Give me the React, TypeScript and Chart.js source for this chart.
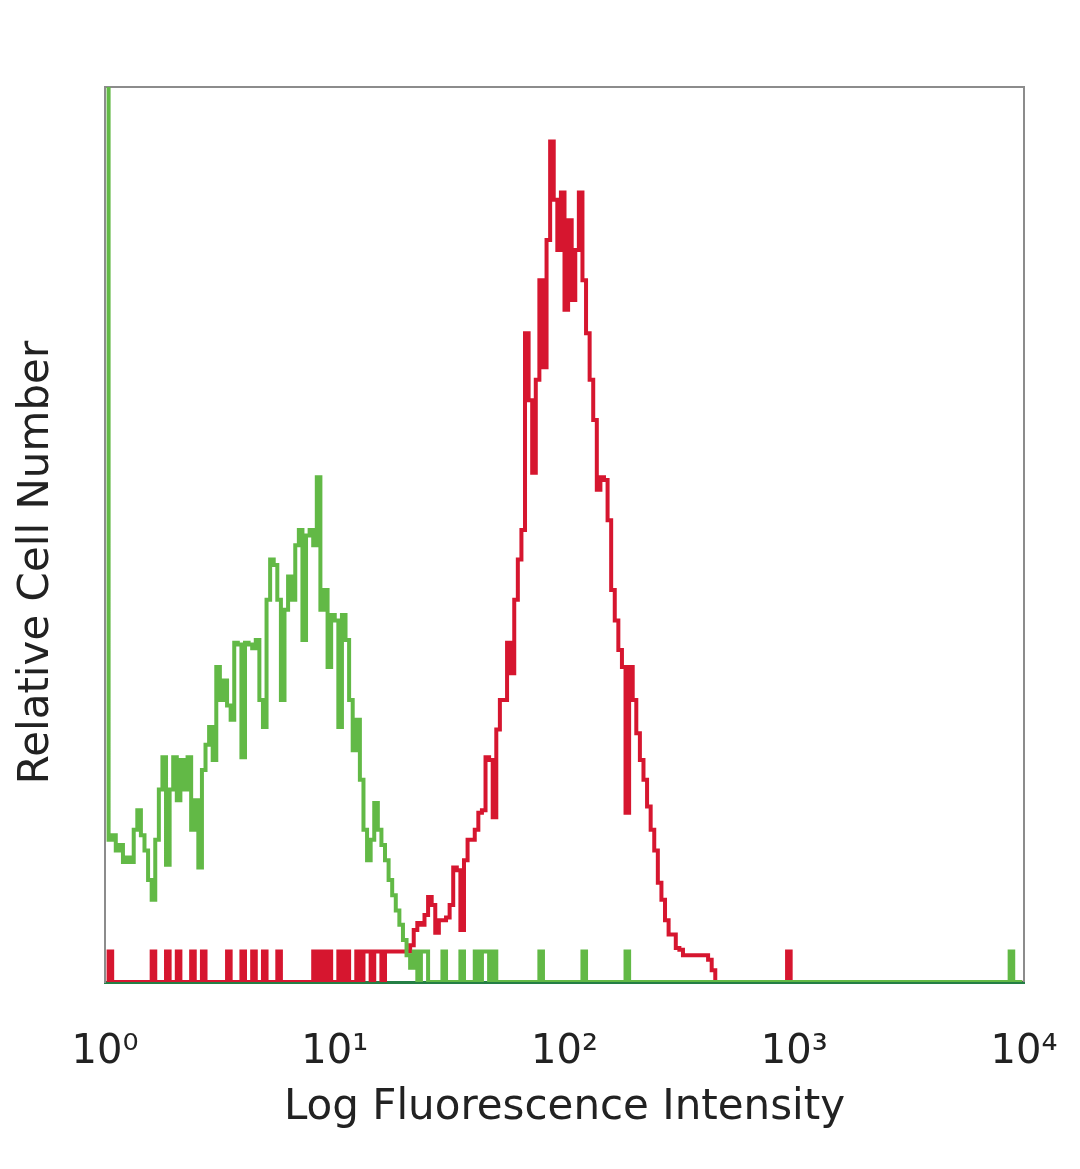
import React, { useEffect, useRef } from "react";
import { Chart, registerables } from "chart.js";

Chart.register(...registerables);

// Histogram channels: 64 channels per decade, 4 decades
const CHANNELS_PER_DECADE = 64;
const TOTAL_CHANNELS = 256;

const xTickValues = [1, 10, 100, 1000, 10000];
const xTickLabels = ["10\u2070", "10\u00B9", "10\u00B2", "10\u00B3", "10\u2074"];

const xAxisTitle = "Log Fluorescence Intensity";
const yAxisTitle = "Relative Cell Number";

// Green histogram (control), channels 0..90
const greenStart = 0;
const greenCounts = [
  150, 15.9, 16.4, 14.7, 15.3, 13.4, 13.9, 13.4, 17.0, 19.2,
  16.4, 14.7, 11.4, 9.2, 15.9, 21.5, 25.1, 13.1, 21.5, 25.1,
  20.3, 24.8, 21.5, 25.1, 17.0, 20.3, 12.8, 23.7, 26.5, 28.5,
  24.8, 35.2, 31.5, 33.7, 30.9, 29.3, 37.9, 37.7, 25.1, 37.9,
  37.7, 37.3, 38.2, 31.5, 28.5, 42.7, 47.2, 46.6, 42.7, 31.5,
  41.6, 45.3, 42.7, 48.8, 50.5, 38.2, 49.9, 50.5, 48.8, 56.4,
  41.6, 43.8, 35.2, 41.0, 40.4, 28.5, 41.0, 38.2, 31.5, 25.9,
  29.3, 22.6, 17.0, 13.6, 15.9, 20.0, 17.0, 15.3, 13.6, 11.4,
  9.7, 8.0, 6.4, 4.7, 3.0, 1.6, 3.4, 0, 3.4, 3.4,
  0,
];
// Isolated single events of the green histogram
const greenRareChannels = [94, 99, 103, 105, 106, 108, 121, 133, 145, 252];
const greenRareCounts = [3.4, 3.4, 3.4, 3.4, 3.4, 3.4, 3.4, 3.4, 3.4, 3.4];

// Red histogram (stained), channels 70..170
const redStart = 70;
const redCounts = [
  3.4, 0, 3.4, 3.4, 0, 3.4, 3.4, 0, 3.4, 3.4,
  3.4, 3.4, 3.4, 3.4, 3.4, 4.1, 5.8, 6.6, 6.4, 7.5,
  9.5, 8.6, 5.5, 6.9, 6.9, 7.2, 8.6, 12.8, 12.5, 5.8,
  13.6, 15.9, 15.9, 17.0, 18.9, 19.2, 25.1, 24.8, 18.4, 28.2,
  31.5, 31.5, 37.9, 34.5, 42.7, 47.2, 50.5, 72.5, 65.0, 56.9,
  67.3, 78.4, 68.7, 82.9, 93.9, 87.4, 81.8, 88.2, 75.1, 85.1,
  76.2, 81.8, 88.2, 78.4, 72.5, 67.3, 62.8, 55.0, 56.4, 56.1,
  51.6, 43.8, 40.4, 37.1, 35.2, 18.9, 35.2, 31.5, 27.8, 24.8,
  22.6, 19.6, 17.0, 14.7, 11.1, 9.2, 6.9, 5.3, 5.3, 3.8,
  3.6, 3.0, 3.0, 3.0, 3.0, 3.0, 3.0, 3.0, 2.5, 1.3,
  0,
];
// Isolated single events of the red histogram
const redRareChannels = [1, 13, 17, 20, 24, 27, 34, 38, 41, 44, 48, 58, 60, 62, 65, 67, 190];
const redRareCounts = [3.4, 3.4, 3.4, 3.4, 3.4, 3.4, 3.4, 3.4, 3.4, 3.4, 3.4, 3.4, 3.4, 3.4, 3.4, 3.4, 3.4];

function buildSeries(start: number, counts: number[], rareCh: number[], rareCt: number[]) {
  const arr: number[] = new Array(TOTAL_CHANNELS).fill(0);
  counts.forEach((c, i) => {
    arr[start + i] = c;
  });
  rareCh.forEach((ch, i) => {
    arr[ch] = rareCt[i];
  });
  return arr.map((y, ch) => ({ x: Math.pow(10, (ch + 0.5) / CHANNELS_PER_DECADE), y }));
}

const framePlugin = {
  id: "frame",
  beforeDatasetsDraw(chart: any) {
    const { ctx, chartArea } = chart;
    const { left, top, right, bottom } = chartArea;
    ctx.save();
    ctx.strokeStyle = "#8c8c8c";
    ctx.lineWidth = 2;
    ctx.beginPath();
    ctx.moveTo(left, top);
    ctx.lineTo(right, top);
    ctx.lineTo(right, bottom);
    ctx.stroke();
    ctx.restore();
  },
};

// Y-axis title, drawn a little below the axis centre as in the original figure
const yTitlePlugin = {
  id: "yTitle",
  afterDraw(chart: any) {
    const { ctx, chartArea } = chart;
    const cy = (chartArea.top + chartArea.bottom) / 2 + 28;
    ctx.save();
    ctx.translate(37, cy);
    ctx.rotate(-Math.PI / 2);
    ctx.fillStyle = "#222222";
    ctx.font = "42px 'DejaVu Sans'";
    ctx.textAlign = "center";
    ctx.textBaseline = "middle";
    ctx.fillText(yAxisTitle, 0, 0);
    ctx.restore();
  },
};

export default function App() {
  const canvasRef = useRef<HTMLCanvasElement | null>(null);

  useEffect(() => {
    if (!canvasRef.current) return;
    const chart = new Chart(canvasRef.current, {
      type: "line",
      data: {
        datasets: [
          {
            label: "Control",
            data: buildSeries(greenStart, greenCounts, greenRareChannels, greenRareCounts),
            borderColor: "#62b946",
            borderWidth: 4,
            pointRadius: 0,
            stepped: "middle",
            fill: false,
          },
          {
            label: "Stained",
            data: buildSeries(redStart, redCounts, redRareChannels, redRareCounts),
            borderColor: "#d6162f",
            borderWidth: 4,
            pointRadius: 0,
            stepped: "middle",
            fill: false,
          },
        ],
      },
      options: {
        animation: false,
        responsive: true,
        maintainAspectRatio: false,
        parsing: false as any,
        layout: { padding: { left: 0, top: 87, right: 56, bottom: 0 } },
        plugins: {
          legend: { display: false },
          tooltip: { enabled: false },
        },
        scales: {
          x: {
            type: "logarithmic",
            min: 1,
            max: 10000,
            afterBuildTicks: (scale: any) => {
              scale.ticks = xTickValues.map((v) => ({ value: v }));
            },
            afterFit: (scale: any) => {
              scale.height = 187;
              scale.paddingLeft = 0;
              scale.paddingRight = 0;
            },
            grid: { display: false },
            border: { display: true, color: "#247f45", width: 3 },
            ticks: {
              autoSkip: false,
              maxRotation: 0,
              padding: 39,
              color: "#222222",
              font: { family: "DejaVu Sans", size: 40 },
              callback: (_v: any, i: number) => xTickLabels[i],
            },
            title: {
              display: true,
              text: xAxisTitle,
              color: "#222222",
              font: { family: "DejaVu Sans", size: 42 },
              padding: { top: 0, bottom: 36 },
            },
          },
          y: {
            type: "linear",
            min: 0,
            max: 100,
            afterFit: (scale: any) => {
              scale.width = 105;
            },
            grid: { display: false },
            border: { display: true, color: "#8c8c8c", width: 2 },
            ticks: { display: false },
            title: { display: false, text: yAxisTitle },
          },
        },
      },
      plugins: [framePlugin, yTitlePlugin],
    });
    return () => chart.destroy();
  }, []);

  return (
    <div
      style={{
        position: "fixed",
        left: 0,
        top: 0,
        width: "1080px",
        height: "1169px",
        background: "#ffffff",
      }}
    >
      <canvas ref={canvasRef} />
    </div>
  );
}
